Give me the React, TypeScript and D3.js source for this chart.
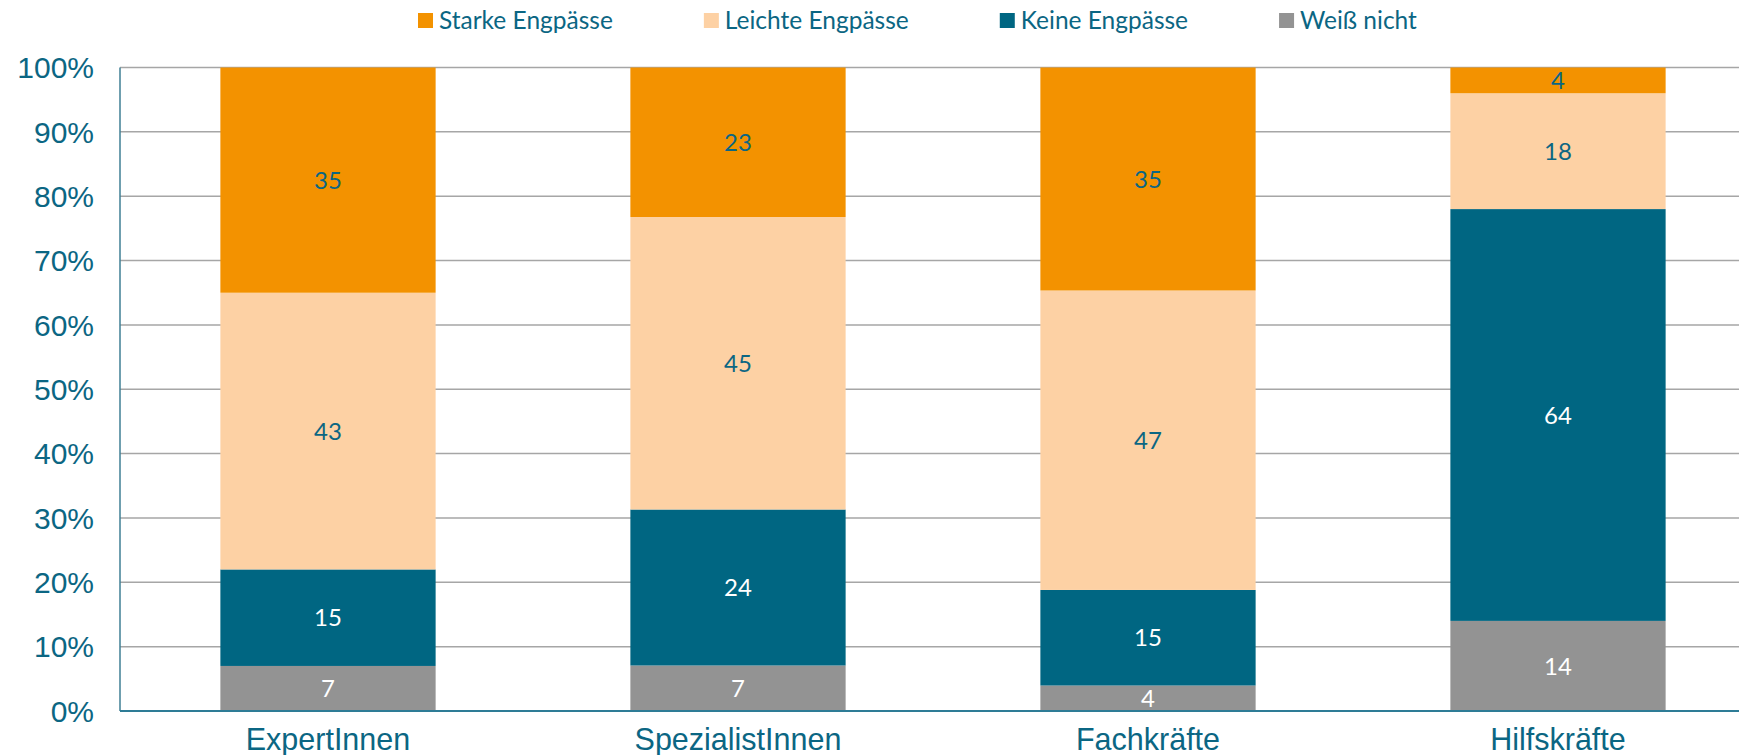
import { useEffect, useRef } from 'react';
import * as d3 from 'd3';

const categories = ['ExpertInnen', 'SpezialistInnen', 'Fachkräfte', 'Hilfskräfte'];
const seriesNames = ['Starke Engpässe', 'Leichte Engpässe', 'Keine Engpässe', 'Weiß nicht'];
const starke = [35, 23, 35, 4];
const leichte = [43, 45, 47, 18];
const keine = [15, 24, 15, 64];
const weissNicht = [7, 7, 4, 14];
const yTicks = [0, 0.1, 0.2, 0.3, 0.4, 0.5, 0.6, 0.7, 0.8, 0.9, 1];

const colors = ['#F39200', '#FDD1A4', '#006682', '#939393'];
const labelColors = ['#0B6683', '#0B6683', '#FFFFFF', '#FFFFFF'];
const teal = '#0B6683';

export default function App() {
    const ref = useRef<SVGSVGElement>(null);

    useEffect(() => {
        document.body.style.margin = '0';
        const svg = d3.select(ref.current);
        svg.selectAll('*').remove();

        const left = 120;
        const top = 67.5;
        const bottom = 711;

        const rows = categories.map((c, i) => ({
            cat: c,
            s0: starke[i],
            s1: leichte[i],
            s2: keine[i],
            s3: weissNicht[i],
        }));
        // stacked bottom-up: Weiß nicht, Keine, Leichte, Starke
        const keys = ['s3', 's2', 's1', 's0'];
        const stacked = d3.stack<any>().keys(keys).offset(d3.stackOffsetExpand)(rows);

        const x = d3.scaleBand()
            .domain(categories)
            .range([123, 1763])
            .paddingInner(0.475)
            .paddingOuter(0.2375);

        const y = d3.scaleLinear().domain([0, 1]).range([bottom, top]);

        // gridlines
        svg.append('g')
            .selectAll('line')
            .data(yTicks.slice(1))
            .join('line')
            .attr('x1', left)
            .attr('x2', 1739)
            .attr('y1', d => y(d))
            .attr('y2', d => y(d))
            .attr('stroke', '#A6A6A6')
            .attr('stroke-width', 1.5);

        // y tick labels
        svg.append('g')
            .selectAll('text')
            .data(yTicks)
            .join('text')
            .attr('x', 94)
            .attr('y', d => y(d))
            .attr('dy', '0.36em')
            .attr('text-anchor', 'end')
            .attr('font-family', '"Liberation Sans", Arial, sans-serif')
            .attr('font-size', 30)
            .attr('fill', teal)
            .text(d => d3.format('.0%')(d));

        // bars
        const layers = svg.append('g')
            .selectAll('g')
            .data(stacked)
            .join('g');

        layers.each(function (layer) {
            const idx = 3 - keys.indexOf(layer.key);
            const g = d3.select(this);
            g.selectAll('rect')
                .data(layer)
                .join('rect')
                .attr('x', (d: any) => x(d.data.cat)!)
                .attr('width', x.bandwidth())
                .attr('y', (d: any) => y(d[1]))
                .attr('height', (d: any) => y(d[0]) - y(d[1]))
                .attr('fill', colors[idx]);
            g.selectAll('text')
                .data(layer)
                .join('text')
                .attr('x', (d: any) => x(d.data.cat)! + x.bandwidth() / 2)
                .attr('y', (d: any) => (y(d[0]) + y(d[1])) / 2)
                .attr('dy', '0.36em')
                .attr('text-anchor', 'middle')
                .attr('font-family', 'Lato, "Open Sans", sans-serif')
                .attr('font-size', 24)
                .attr('fill', labelColors[idx])
                .text((d: any) => d.data[layer.key]);
        });

        // axes lines
        svg.append('line')
            .attr('x1', left).attr('x2', left)
            .attr('y1', top).attr('y2', bottom)
            .attr('stroke', '#3F7F95').attr('stroke-width', 1.5);
        svg.append('line')
            .attr('x1', left).attr('x2', 1739)
            .attr('y1', bottom).attr('y2', bottom)
            .attr('stroke', '#2E7C96').attr('stroke-width', 2);

        // category labels
        svg.append('g')
            .selectAll('text')
            .data(categories)
            .join('text')
            .attr('x', d => x(d)! + x.bandwidth() / 2)
            .attr('y', 750)
            .attr('text-anchor', 'middle')
            .attr('font-family', '"Liberation Sans", Arial, sans-serif')
            .attr('font-size', 30.5)
            .attr('fill', teal)
            .text(d => d);

        // legend
        const legend = svg.append('g');
        let lx = 418;
        seriesNames.forEach((name, i) => {
            legend.append('rect')
                .attr('x', lx).attr('y', 13)
                .attr('width', 15).attr('height', 15)
                .attr('fill', colors[i]);
            const t = legend.append('text')
                .attr('x', lx + 21).attr('y', 20.5)
                .attr('dy', '0.36em')
                .attr('font-family', 'Lato, "Open Sans", sans-serif')
                .attr('font-size', 24.5)
                .attr('fill', teal)
                .text(name);
            const w = (t.node() as SVGTextElement).getComputedTextLength();
            lx += 21 + w + 91;
        });
    }, []);

    return (
        <svg ref={ref} width={1739} height={755} style={{ display: 'block' }} />
    );
}
